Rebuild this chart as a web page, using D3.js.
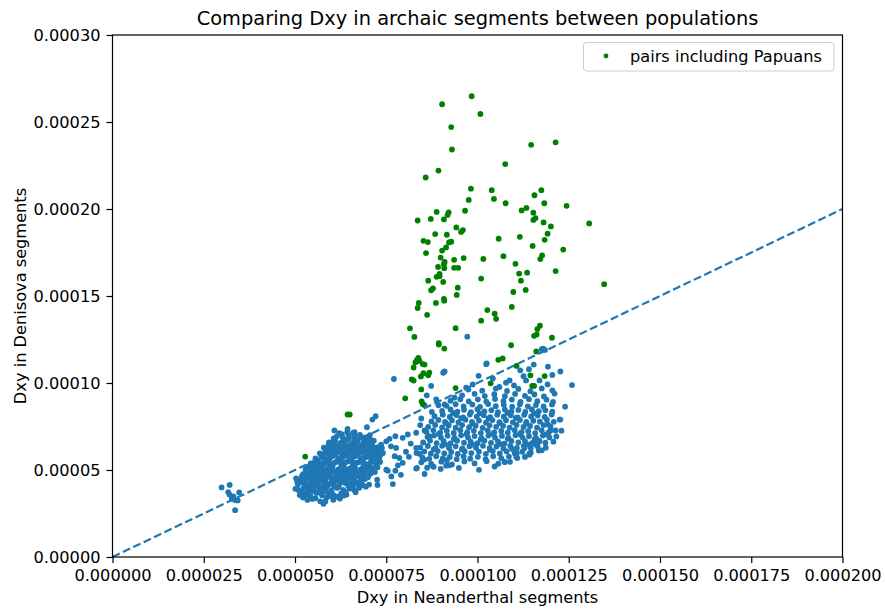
<!DOCTYPE html>
<html>
<head>
<meta charset="utf-8">
<script src="https://cdn.jsdelivr.net/npm/d3@7"></script>
<style>
  body { margin: 0; background: #fff; }
  svg { display: block; }
  text { font-family: "DejaVu Sans", sans-serif; fill: #000; }
</style>
</head>
<body>
<svg id="chart" width="885" height="615"></svg>
<script>
// All pair values are stored in units of 1e-6 (Dxy).
const UNIT = 1e-6;

const xTicks = [0, 0.000025, 0.00005, 0.000075, 0.0001, 0.000125, 0.00015, 0.000175, 0.0002];
const yTicks = [0, 0.00005, 0.0001, 0.00015, 0.0002, 0.00025, 0.0003];

// Diagonal reference: equal Dxy in both archaic segment types
const refLine = [0, 0.0002];

// Population pairs not involving Papuans: [Neanderthal Dxy, Denisova Dxy]
const otherPairs = [
  // small group near 3e-5
  [29.9,40.0],[32.1,41.4],[31.7,37.3],[32.1,35.8],[32.7,33.3],[33.6,32.7],[34.3,32.5],[34.7,37.1],[33.6,26.9],[33.1,34.8],
  // dense group around 5.5e-5 .. 7e-5
  [54.8,33.4],[56.9,32.0],[58.6,34.1],[60.5,32.9],[62.3,33.6],[53.4,32.8],[57.8,30.6],
  [51.3,35.6],[52.8,36.4],[54.2,35.1],[55.9,36.8],[57.4,35.5],[59.1,36.9],[60.8,35.2],[62.6,36.4],[64.1,35.8],[56.5,37.3],[53.6,37.7],
  [50.9,38.5],[52.3,39.6],[53.9,38.2],[55.3,39.9],[56.8,38.7],[58.4,39.4],[59.9,38.1],[61.5,39.7],[63.2,38.6],[65.0,39.3],[57.6,40.1],[54.6,40.4],[60.7,40.6],
  [50.8,41.6],[52.1,42.8],[53.5,41.2],[54.9,42.5],[56.3,41.4],[57.7,42.9],[59.2,41.7],[60.6,43.1],[62.1,41.5],[63.7,42.6],[65.3,41.9],[66.8,42.8],[68.6,41.3],[70.3,41.6],[72.6,41.4],[51.6,43.6],[55.6,43.8],[58.3,43.5],[61.4,43.9],
  [51.4,44.7],[52.9,45.6],[54.3,44.2],[55.8,45.9],[57.1,44.6],[58.7,45.8],[60.1,44.4],[61.8,45.5],[63.3,44.1],[64.8,45.7],[66.2,44.5],[67.9,45.3],[69.2,44.8],[53.6,46.4],[56.4,46.8],[59.5,46.6],[62.6,46.9],[65.7,46.4],
  [52.2,47.6],[53.8,48.5],[55.1,47.3],[56.9,48.8],[58.2,47.5],[59.8,48.9],[61.2,47.7],[62.9,48.6],[64.4,47.4],[66.0,48.7],[67.5,47.6],[69.1,48.4],[70.7,47.9],[54.7,49.6],[57.6,49.9],[60.6,49.5],[63.7,49.8],[66.8,49.9],
  [52.9,50.6],[54.4,51.5],[55.8,50.3],[57.3,51.8],[58.9,50.7],[60.3,51.9],[61.9,50.4],[63.4,51.6],[64.9,50.8],[66.4,51.9],[68.1,50.5],[69.6,51.4],[71.3,50.9],[56.1,52.7],[59.4,52.9],[62.7,52.6],[65.8,52.8],[68.9,52.6],
  [54.3,53.8],[55.6,54.9],[57.0,53.6],[58.6,54.7],[60.0,53.4],[61.5,54.8],[63.1,53.7],[64.6,55.0],[66.1,53.9],[67.7,54.6],[69.2,53.5],[70.8,54.9],[72.1,53.8],[59.3,55.8],[62.4,55.6],[65.5,55.9],[68.6,55.7],
  [55.6,56.6],[57.2,57.5],[58.7,56.3],[60.2,57.8],[61.8,56.5],[63.3,57.6],[64.9,56.2],[66.4,57.9],[67.9,56.7],[69.5,57.4],[71.0,56.4],[72.4,57.7],[57.9,58.7],[61.1,58.9],[64.2,58.5],[67.3,58.8],[70.3,58.6],
  [56.8,59.6],[58.4,60.7],[60.0,59.4],[61.5,60.8],[63.0,59.5],[64.6,60.6],[66.1,59.3],[67.7,60.9],[69.2,59.7],[70.8,60.5],[72.3,59.9],[59.2,61.7],[62.3,61.9],[65.4,61.5],[68.5,61.8],[71.5,61.6],
  [57.9,62.8],[59.6,63.7],[61.1,62.4],[62.7,63.9],[64.2,62.6],[65.8,63.5],[67.3,62.3],[68.9,63.8],[70.4,62.7],[60.4,64.6],[63.5,64.9],[66.6,64.4],[69.7,64.8],
  [59.3,65.9],[61.0,66.8],[62.5,65.6],[64.1,66.9],[65.6,65.4],[67.2,66.7],[68.8,65.8],[70.5,66.5],[63.3,67.7],[66.4,68.1],[69.6,67.9],
  [61.4,69.2],[62.8,70.6],[64.7,69.4],[67.8,70.2],[69.4,68.7],[65.9,71.3],[50.3,45.2],[50.1,39.2],[52.8,41.5],[53.1,35.8],
  [60.8,72.7],[64.3,71.7],[66.3,71.7],[69.7,74.6],[71.2,79.0],[72.1,80.9],[67.9,69.1],[70.4,68.5],[65.8,40.6],[68.1,43.4],
  [52.0,37.2],[53.1,40.3],[55.0,37.9],[56.0,41.0],[57.9,37.6],[58.9,40.8],[60.1,37.0],[61.9,40.2],[63.9,37.4],[64.6,40.9],
  [50.6,43.2],[52.6,44.0],[54.1,43.3],[56.9,43.9],[59.8,42.6],[62.8,43.4],[64.5,43.6],[66.0,43.1],[67.4,41.2],
  [51.9,46.5],[54.9,46.0],[57.8,46.2],[60.8,46.1],[63.9,46.2],[66.9,46.7],[68.5,46.5],[70.0,45.9],
  [53.0,49.1],[55.9,49.0],[58.9,49.2],[61.9,49.3],[65.0,49.2],[68.0,49.5],[70.1,49.4],[71.9,48.8],
  [53.7,51.9],[56.6,51.1],[59.7,51.2],[62.6,51.1],[65.6,51.2],[68.7,51.7],[70.5,52.3],[72.6,51.6],
  [55.0,53.2],[57.8,53.1],[60.8,54.2],[63.8,54.3],[66.9,54.2],[70.0,53.2],[71.5,55.3],[73.3,54.6],
  [56.3,55.4],[58.0,56.0],[59.5,57.1],[62.6,57.1],[65.7,57.2],[68.7,57.0],[70.7,57.9],[73.0,56.2],
  [57.6,59.0],[59.3,59.4],[62.3,60.2],[65.3,60.1],[68.4,60.1],[71.6,59.3],[73.4,58.6],
  [58.6,61.9],[60.5,61.3],[63.6,61.4],[66.8,61.1],[69.9,61.2],[72.8,61.4],
  [59.2,64.2],[61.8,64.0],[65.0,64.0],[68.1,64.1],[71.2,64.1],[72.4,62.9],
  [60.3,66.2],[63.4,66.3],[66.4,66.2],[69.7,66.4],[71.6,66.8],[60.6,68.1],[64.8,68.3],[68.3,68.7],
  [63.0,68.9],[66.4,69.7],[70.5,70.1],[62.1,71.2],[64.4,73.6],
  [54.2,39.0],[59.6,35.0],[61.6,34.6],[55.6,33.8],[52.2,34.2],[58.3,31.9],[63.4,35.3],[66.2,38.6],[67.6,39.8],[69.4,40.4],[66.6,37.2],
  // sparse bridge between the two groups
  [73.2,63.6],[73.8,62.7],[75.9,67.9],[77.5,69.4],[77.7,62.7],[79.5,68.5],[80.9,70.4],[83.2,71.4],[84.3,75.8],[85.5,72.7],[86.8,69.4],
  [83.2,62.7],[84.1,59.3],[85.4,56.0],[87.8,52.1],[83.2,50.8],[85.5,47.7],[73.0,56.9],[75.4,49.6],[77.5,49.6],[76.4,46.3],[76.8,41.9],
  [75.0,66.5],[76.3,63.6],[77.3,57.9],[78.6,56.9],[79.5,54.1],[83.4,51.2],[88.0,51.8],[91.4,52.5],[94.9,51.2],[73.6,64.6],[71.3,62.7],
  [75.0,50.2],[72.5,44.4],[74.1,59.8],[80.4,60.5],[81.7,65.2],[79.0,47.2],[81.2,57.6],[78.2,52.7],
  // broad group around 8.5e-5 .. 1.25e-4
  [86.2,51.3],[89.9,50.6],[100.4,50.1],[104.7,52.0],[92.3,52.7],
  [84.6,54.4],[87.3,53.5],[90.1,54.8],[93.0,53.2],[96.4,54.9],[99.2,53.8],[102.5,55.1],[105.7,53.6],[108.9,54.7],[91.6,55.6],
  [84.9,57.2],[86.8,56.4],[88.7,57.9],[90.5,56.6],[92.4,57.5],[94.3,56.2],[96.2,57.8],[98.0,56.5],[100.1,57.6],[102.2,56.3],[104.3,57.9],[106.5,56.8],[108.6,57.7],[110.9,56.9],[113.0,57.5],
  [83.3,59.8],[85.4,60.7],[87.2,59.4],[89.1,60.9],[90.9,59.6],[92.8,60.4],[94.6,59.2],[96.5,60.8],[98.3,59.7],[100.4,60.6],[102.3,59.3],[104.2,60.9],[106.1,59.5],[108.0,60.7],[110.2,59.6],[112.3,60.5],[114.6,59.9],[116.8,61.2],[88.0,61.8],[95.7,61.9],[103.4,61.7],[109.5,62.0],
  [84.3,62.9],[86.4,63.8],[88.5,62.5],[90.3,63.9],[92.2,62.7],[94.0,63.6],[95.9,62.4],[97.8,63.7],[99.6,62.8],[101.5,63.9],[103.3,62.6],[105.2,63.5],[107.1,62.3],[109.0,63.8],[110.8,62.7],[112.7,63.9],[114.6,62.6],[116.5,63.5],[118.7,62.8],[91.1,64.8],[98.7,64.6],[106.3,64.9],[113.6,64.7],
  [85.1,65.8],[87.0,66.9],[88.8,65.5],[90.7,66.6],[92.6,65.3],[94.4,66.8],[96.3,65.7],[98.1,66.5],[100.0,65.4],[101.9,66.9],[103.7,65.6],[105.6,66.4],[107.4,65.2],[109.3,66.7],[111.2,65.8],[113.0,66.6],[114.9,65.4],[116.8,66.9],[118.6,65.7],[120.8,66.3],[93.5,67.8],[100.9,67.6],[108.3,67.9],[115.7,67.7],
  [86.3,68.9],[88.1,69.8],[90.0,68.6],[91.8,69.7],[93.7,68.4],[95.5,69.9],[97.4,68.7],[99.2,69.5],[101.1,68.3],[103.0,69.8],[104.8,68.6],[106.7,69.6],[108.5,68.4],[110.4,69.9],[112.3,68.8],[114.1,69.4],[116.0,68.5],[117.9,69.8],[119.7,68.7],[121.6,69.3],[89.4,70.8],[97.0,70.6],[104.2,70.9],[111.6,70.7],[118.8,70.5],
  [86.0,71.9],[87.9,72.8],[89.8,71.5],[91.6,72.6],[93.5,71.3],[95.3,72.9],[97.2,71.7],[99.0,72.5],[100.9,71.2],[102.8,72.7],[104.6,71.6],[106.5,72.4],[108.3,71.4],[110.2,72.9],[112.1,71.8],[113.9,72.3],[115.8,71.2],[117.6,72.8],[119.5,71.6],[121.4,72.7],[123.0,72.6],
  [86.5,74.8],[88.4,75.9],[90.3,74.5],[92.1,75.6],[94.0,74.3],[95.8,75.8],[97.7,74.6],[99.5,75.5],[101.4,74.2],[103.3,75.7],[105.1,74.8],[107.0,75.4],[108.8,74.3],[110.7,75.9],[112.6,74.7],[114.4,75.3],[116.3,74.4],[118.1,75.8],[120.0,74.9],[91.4,76.8],[98.6,76.6],[106.1,76.9],[113.3,76.7],
  [87.4,77.9],[89.3,78.8],[91.1,77.6],[93.0,78.5],[94.8,77.3],[96.7,78.9],[98.5,77.7],[100.4,78.4],[102.3,77.2],[104.1,78.7],[106.0,77.5],[107.8,78.6],[109.7,77.4],[111.6,78.8],[113.4,77.6],[115.3,78.3],[117.1,77.8],[119.0,78.9],[120.9,77.7],[122.7,79.0],[95.5,79.8],[103.0,79.6],[110.5,79.9],
  [88.2,80.9],[90.5,81.8],[92.4,80.5],[94.2,81.6],[96.1,80.3],[97.9,81.9],[99.8,80.7],[101.7,81.5],[103.5,80.4],[105.4,81.8],[107.2,80.6],[109.1,81.4],[111.0,80.2],[112.8,81.7],[114.7,80.8],[116.5,81.3],[118.4,80.5],[120.3,81.9],[93.3,82.8],[100.6,82.6],[108.2,82.9],[115.5,82.7],
  [90.3,83.9],[92.6,84.8],[94.5,83.5],[96.3,84.6],[98.2,83.3],[100.0,84.9],[101.9,83.7],[103.8,84.4],[105.6,83.2],[107.5,84.7],[109.3,83.6],[111.2,84.5],[113.1,83.4],[114.9,84.8],[116.8,83.8],[118.6,84.3],[120.5,83.5],[124.0,86.4],
  [91.5,86.9],[94.0,87.8],[96.2,86.5],[98.6,87.6],[100.7,86.3],[102.9,87.9],[105.0,86.7],[107.2,87.5],[109.5,86.4],[111.6,87.8],[113.8,86.6],[116.0,87.3],[118.1,86.5],[120.4,87.7],
  [92.6,89.8],[95.3,90.7],[97.6,89.4],[100.1,90.6],[102.4,89.3],[104.8,90.8],[107.1,89.6],[109.4,90.5],[111.8,89.2],[114.1,90.7],[116.4,89.5],[118.9,90.4],[120.7,89.1],
  [95.8,92.9],[99.2,93.8],[102.0,92.5],[104.6,93.6],[107.5,92.4],[110.3,93.7],[113.0,92.6],[115.6,93.4],[118.2,92.3],[121.1,93.9],
  [97.5,96.2],[101.3,95.6],[105.0,96.8],[108.1,95.4],[111.2,96.6],[114.5,95.3],[117.6,96.9],[120.5,95.8],[125.9,98.8],
  [120.0,72.7],[119.3,76.2],[117.0,66.5],[116.0,64.6],[114.2,58.8],[112.9,62.7],[110.8,59.8],[107.4,54.6],[107.5,54.6],[110.6,57.5],[114.2,59.4],[117.6,61.3],[115.6,66.5],[122.5,79.0],
  [85.5,87.2],[87.5,83.4],[84.6,79.6],[86.1,92.9],[89.3,87.2],
  // upper fringe of the broad group
  [107.8,100.2],[106.0,97.7],[108.8,101.5],[113.3,101.5],[117.0,101.5],[119.2,99.2],[120.5,104.6],[122.7,106.6],[111.7,107.3],[114.1,107.9],
  [102.4,110.8],[91.0,106.6],[98.7,99.2],[96.9,97.3],[87.3,98.3],[88.7,90.6],[91.0,87.7],[93.7,91.6],[97.2,126.6],[77.1,102.3],
  [90.6,105.9],[102.5,111.3],[115.4,110.6],[118.0,119.8],[117.6,119.4],[118.5,119.0],[119.3,109.4],[112.6,103.9],[104.2,102.6],[100.3,104.1],[110.0,98.6]
];

// Population pairs including Papuans: [Neanderthal Dxy, Denisova Dxy]
const papuanPairs = [
  [98.4,264.8],[90.3,260.2],[100.8,254.6],[92.8,247.1],[93.0,234.2],[114.7,236.9],[121.4,238.3],[107.6,225.8],[89.3,222.1],[85.8,218.1],
  [98.2,211.7],[103.9,210.8],[97.6,205.2],[104.5,205.8],[107.7,203.3],[115.6,207.9],[117.5,210.8],[118.3,203.3],[124.4,201.8],
  [88.8,198.3],[92.1,198.1],[91.8,196.6],[87.2,194.3],[90.8,194.0],[83.6,193.4],[96.6,199.0],[112.1,199.2],[113.4,200.6],[115.3,197.9],
  [115.9,194.8],[115.3,193.7],[118.1,192.3],[120.1,190.0],[130.6,191.7],
  [94.2,189.4],[96.0,187.9],[95.5,186.8],[88.4,185.6],[91.6,185.2],[119.2,185.8],[118.4,182.3],[111.6,184.0],[105.8,182.9],[85.2,181.7],
  [86.4,181.0],[92.8,181.2],[92.2,180.8],[91.4,177.9],[90.3,176.1],[85.9,174.6],[115.1,178.8],[123.5,176.7],
  [89.9,172.1],[91.0,169.6],[90.8,168.3],[93.6,170.8],[96.2,171.8],[101.6,171.3],[107.1,172.9],[117.7,173.3],[117.2,171.2],
  [89.2,166.7],[90.9,166.0],[93.6,166.2],[94.7,166.2],[110.4,168.5],[89.6,162.7],[88.8,161.0],[89.6,161.4],[111.4,162.9],[113.6,163.4],[121.4,164.3],
  [86.5,158.8],[90.6,158.1],[101.0,160.0],[111.9,158.8],[134.7,156.8],[87.8,154.4],[87.3,153.3],[94.6,154.8],[94.3,150.6],[109.8,152.3],[113.2,153.5],[90.8,148.4],
  [83.9,146.0],[83.6,143.1],[88.6,146.0],[90.9,147.3],[86.2,139.2],[102.7,141.9],[104.7,139.8],[105.1,136.9],[101.0,135.8],[109.4,143.7],
  [117.1,132.9],[116.4,131.0],[115.5,127.1],[116.2,127.9],[120.4,126.0],[109.2,121.7],[116.1,118.1],[105.7,113.3],[106.9,114.1],[110.7,109.8],
  [81.5,131.4],[82.7,126.5],[94.0,131.5],[89.4,122.9],[89.4,122.1],[90.9,119.8],
  [83.8,114.4],[83.4,113.3],[84.1,112.7],[83.0,111.9],[85.0,110.9],[85.5,110.6],[82.5,108.9],[85.2,105.6],[86.8,106.0],[86.5,104.4],[84.5,103.8],[82.0,102.1],[82.5,101.4],
  [84.6,96.3],[94.0,97.1],[103.6,99.8],[114.5,104.4],[115.0,98.3],[115.5,98.3],[118.4,104.0],[80.2,91.2],[84.7,89.4],[85.0,87.9],
  [64.4,81.9],[65.0,81.9],[52.8,57.7]
];

const title = "Comparing Dxy in archaic segments between populations";
const xLabel = "Dxy in Neanderthal segments";
const yLabel = "Dxy in Denisova segments";
const legendLabel = "pairs including Papuans";

const svg = d3.select("#chart");
const W = 885, H = 615;
const plot = { left: 112.5, right: 842.5, top: 35, bottom: 557 };
const fontSize = 16.2;
const titleSize = 19.4;
const C0 = "#1f77b4";
const GREEN = "#008000";

const x = d3.scaleLinear().domain([0, 0.0002]).range([plot.left, plot.right]);
const y = d3.scaleLinear().domain([0, 0.0003]).range([plot.bottom, plot.top]);

svg.append("rect").attr("width", W).attr("height", H).attr("fill", "#fff");

// points
const dotR = 2.9;
svg.append("g").selectAll("circle").data(otherPairs).join("circle")
  .attr("cx", d => x(d[0] * UNIT)).attr("cy", d => y(d[1] * UNIT))
  .attr("r", dotR).attr("fill", C0);

svg.append("g").selectAll("circle").data(papuanPairs).join("circle")
  .attr("cx", d => x(d[0] * UNIT)).attr("cy", d => y(d[1] * UNIT))
  .attr("r", dotR).attr("fill", GREEN);

// y = x reference line
svg.append("line")
  .attr("x1", x(refLine[0])).attr("y1", y(refLine[0]))
  .attr("x2", x(refLine[1])).attr("y2", y(refLine[1]))
  .attr("stroke", C0).attr("stroke-width", 2.2)
  .attr("stroke-dasharray", "8,3.5");

// axes
const xAxis = svg.append("g")
  .attr("transform", `translate(0,${plot.bottom})`)
  .call(d3.axisBottom(x).tickValues(xTicks).tickFormat(d3.format(".6f"))
    .tickSize(6).tickSizeOuter(0).tickPadding(6.5));
const yAxis = svg.append("g")
  .attr("transform", `translate(${plot.left},0)`)
  .call(d3.axisLeft(y).tickValues(yTicks).tickFormat(d3.format(".5f"))
    .tickSize(6).tickSizeOuter(0).tickPadding(6));
[xAxis, yAxis].forEach(g => {
  g.selectAll("text").attr("font-size", fontSize).attr("font-family", "DejaVu Sans").attr("fill", "#000");
  g.selectAll("line").attr("stroke", "#000").attr("stroke-width", 1.2);
  g.select(".domain").remove();
});

// frame
svg.append("rect")
  .attr("x", plot.left).attr("y", plot.top)
  .attr("width", plot.right - plot.left).attr("height", plot.bottom - plot.top)
  .attr("fill", "none").attr("stroke", "#000").attr("stroke-width", 1.2);

// titles
svg.append("text").attr("x", (plot.left + plot.right) / 2).attr("y", 25)
  .attr("text-anchor", "middle").attr("font-size", titleSize).text(title);
svg.append("text").attr("x", (plot.left + plot.right) / 2).attr("y", 603)
  .attr("text-anchor", "middle").attr("font-size", fontSize).text(xLabel);
svg.append("text")
  .attr("transform", `translate(26,${(plot.top + plot.bottom) / 2}) rotate(-90)`)
  .attr("text-anchor", "middle").attr("font-size", fontSize).text(yLabel);

// legend
const lg = svg.append("g").attr("transform", "translate(583.5,42.5)");
lg.append("rect").attr("width", 250.5).attr("height", 28.5).attr("rx", 3)
  .attr("fill", "#fff").attr("fill-opacity", 0.8).attr("stroke", "#cccccc").attr("stroke-width", 1);
lg.append("circle").attr("cx", 22.5).attr("cy", 13.5).attr("r", 2.4).attr("fill", GREEN);
lg.append("text").attr("x", 46.5).attr("y", 14).attr("dy", "0.35em")
  .attr("font-size", fontSize).text(legendLabel);
</script>
</body>
</html>
